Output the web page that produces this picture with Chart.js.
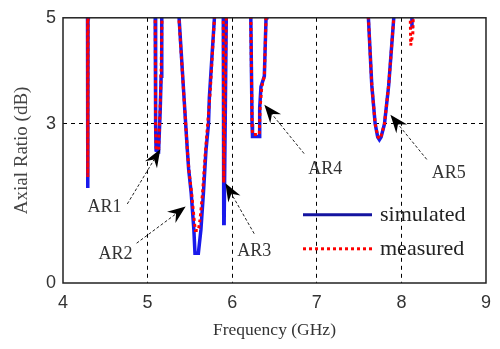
<!DOCTYPE html>
<html>
<head>
<meta charset="utf-8">
<script src="https://cdn.jsdelivr.net/npm/chart.js@4.4.0/dist/chart.umd.min.js"></script>
<style>
  html, body { margin: 0; padding: 0; background: #fff; }
</style>
</head>
<body>
<canvas id="arChart" width="500" height="349"></canvas>
<script>
// simulated curve (values above 5 dB fall outside the plot and get clipped)
const simFreq = [4.28, 4.29, 4.293, 4.296, 4.30,
  5.08, 5.09, 5.095, 5.10, 5.13, 5.15, 5.16, 5.165, 5.17,
  5.36, 5.372, 5.45, 5.47, 5.485, 5.515, 5.547, 5.56, 5.60, 5.63, 5.66, 5.69, 5.72, 5.73, 5.79, 5.80,
  5.89, 5.895, 5.90, 5.905, 5.93, 5.94,
  6.21, 6.22, 6.235, 6.24, 6.32, 6.325, 6.34, 6.38, 6.40, 6.41,
  7.60, 7.61, 7.65, 7.69, 7.72, 7.74, 7.76, 7.80, 7.85, 7.91, 7.92,
  8.115, 8.125, 8.135];
const simAR = [8, 5, 1.79, 5, 8,
  8, 5, 3.0, 2.5, 2.48, 3.3, 3.9, 5, 8,
  8, 5, 3.0, 2.5, 2.15, 1.7, 1.0, 0.56, 0.56, 1.0, 1.7, 2.5, 3.0, 3.5, 5, 8,
  8, 5, 1.12, 1.12, 5, 8,
  8, 5, 3.0, 2.76, 2.76, 3.3, 3.7, 3.9, 5, 8,
  8, 5, 3.73, 3.0, 2.75, 2.7, 2.75, 3.0, 3.73, 5, 8,
  8, 4.8, 8];

// measured curve
const measFreq = [4.28, 4.29, 4.293, 4.296, 4.30,
  5.08, 5.09, 5.095, 5.10, 5.13, 5.15, 5.16, 5.17, 5.18,
  5.36, 5.37, 5.45, 5.47, 5.49, 5.52, 5.55, 5.565, 5.60, 5.62, 5.65, 5.68, 5.71, 5.74, 5.79, 5.80,
  5.89, 5.895, 5.90, 5.93, 5.94,
  6.21, 6.22, 6.235, 6.24, 6.32, 6.33, 6.35, 6.38, 6.40, 6.41,
  7.60, 7.61, 7.65, 7.69, 7.72, 7.74, 7.76, 7.80, 7.85, 7.91, 7.92,
  8.10, 8.105, 8.11, 8.135, 8.14, 8.15];
const measAR = [8, 5, 2.0, 5, 8,
  8, 5, 3.0, 2.55, 2.5, 3.4, 4.0, 5, 8,
  8, 5, 3.0, 2.5, 2.1, 1.7, 1.2, 0.99, 0.99, 1.2, 1.7, 2.4, 3.0, 3.6, 5, 8,
  8, 5, 1.89, 5, 8,
  8, 5, 3.0, 2.8, 2.8, 3.3, 3.7, 3.9, 5, 8,
  8, 5, 3.73, 3.0, 2.77, 2.72, 2.77, 3.0, 3.73, 5, 8,
  8, 5, 4.48, 4.7, 5, 8];

const xTicks = [4, 5, 6, 7, 8, 9];
const yTicks = [0, 3, 5];

// annotation labels: text spot and arrow tail / tip, in GHz and dB
const arNames = ['AR1', 'AR2', 'AR3', 'AR4', 'AR5'];
const arTextX = [4.49, 4.62, 6.26, 7.10, 8.56];
const arTextY = [1.42, 0.54, 0.60, 2.15, 2.07];
const arTailX = [4.76, 4.87, 6.26, 6.85, 8.30];
const arTailY = [1.49, 0.75, 0.93, 2.44, 2.33];
const arTipX = [5.15, 5.45, 5.92, 6.38, 7.87];
const arTipY = [2.52, 1.44, 1.88, 3.36, 3.17];

const seriesNames = ['simulated', 'measured'];
const blue = 'rgb(25,25,235)';
const red = 'rgb(255,0,0)';

function toPoints(xs, ys) {
  return xs.map((x, i) => ({x: x, y: ys[i]}));
}

const serif = '"Liberation Serif", "Times New Roman", serif';
const sans = '"Liberation Sans", Arial, sans-serif';

const framePlugin = {
  id: 'frame',
  afterDatasetsDraw(chart) {
    const {ctx, chartArea: a} = chart;
    ctx.save();
    ctx.strokeStyle = '#222';
    ctx.lineWidth = 1.5;
    ctx.strokeRect(a.left, a.top, a.right - a.left, a.bottom - a.top);
    ctx.restore();
  }
};

const notesPlugin = {
  id: 'notes',
  afterDraw(chart) {
    const ctx = chart.ctx;
    const xs = chart.scales.x, ys = chart.scales.y;
    ctx.save();
    // arrows
    for (let i = 0; i < arNames.length; i++) {
      const x0 = xs.getPixelForValue(arTailX[i]), y0 = ys.getPixelForValue(arTailY[i]);
      const x1 = xs.getPixelForValue(arTipX[i]), y1 = ys.getPixelForValue(arTipY[i]);
      const ang = Math.atan2(y1 - y0, x1 - x0);
      const len = 18, half = 7, notch = 12;
      ctx.strokeStyle = '#222';
      ctx.lineWidth = 1;
      ctx.setLineDash([3, 2]);
      ctx.beginPath();
      ctx.moveTo(x0, y0);
      ctx.lineTo(x1 - Math.cos(ang) * notch, y1 - Math.sin(ang) * notch);
      ctx.stroke();
      ctx.setLineDash([]);
      const bx = x1 - Math.cos(ang) * len, by = y1 - Math.sin(ang) * len;
      const nx = -Math.sin(ang), ny = Math.cos(ang);
      ctx.fillStyle = '#000';
      ctx.beginPath();
      ctx.moveTo(x1, y1);
      ctx.lineTo(bx + nx * half, by + ny * half);
      ctx.lineTo(x1 - Math.cos(ang) * notch, y1 - Math.sin(ang) * notch);
      ctx.lineTo(bx - nx * half, by - ny * half);
      ctx.closePath();
      ctx.fill();
      ctx.fillStyle = '#333';
      ctx.font = '18px ' + serif;
      ctx.textAlign = 'center';
      ctx.textBaseline = 'middle';
      ctx.fillText(arNames[i], xs.getPixelForValue(arTextX[i]), ys.getPixelForValue(arTextY[i]));
    }
    // legend inside the plot
    const a = chart.chartArea;
    const lx0 = a.left + 240, lx1 = a.left + 309, tx = a.left + 317;
    const rows = [a.top + 197, a.top + 231];
    ctx.font = '22px ' + serif;
    ctx.textAlign = 'left';
    ctx.textBaseline = 'middle';
    chart.data.datasets.forEach((ds, i) => {
      ctx.strokeStyle = i === 0 ? 'rgb(20,20,160)' : ds.borderColor;
      ctx.lineWidth = 3;
      ctx.setLineDash(ds.borderDash || []);
      ctx.beginPath();
      ctx.moveTo(lx0, rows[i]);
      ctx.lineTo(lx1, rows[i]);
      ctx.stroke();
      ctx.setLineDash([]);
      ctx.fillStyle = '#222';
      ctx.fillText(seriesNames[i], tx, rows[i]);
    });
    ctx.restore();
  }
};

const ctx = document.getElementById('arChart').getContext('2d');
const chart = new Chart(ctx, {
  type: 'line',
  data: {
    datasets: [
      {
        label: seriesNames[0],
        data: toPoints(simFreq, simAR),
        borderColor: blue,
        borderWidth: 3.5,
        pointRadius: 0,
        tension: 0,
        clip: 0,
        order: 1
      },
      {
        label: seriesNames[1],
        data: toPoints(measFreq, measAR),
        borderColor: red,
        borderWidth: 3,
        borderDash: [3, 3],
        pointRadius: 0,
        tension: 0,
        clip: 0,
        order: 0
      }
    ]
  },
  options: {
    responsive: false,
    animation: false,
    layout: { padding: { top: 15, right: 7, left: 0, bottom: 0 } },
    plugins: {
      legend: { display: false },
      tooltip: { enabled: false }
    },
    scales: {
      x: {
        type: 'linear',
        min: 4,
        max: 9,
        afterBuildTicks: (s) => { s.ticks = xTicks.map(v => ({value: v})); },
        afterFit: (s) => { s.height = 66; },
        ticks: { padding: 9, color: '#333', font: { family: sans, size: 18 } },
        grid: {
          drawTicks: false,
          lineWidth: 1,
          color: (c) => (c.tick && c.tick.value > 4 && c.tick.value < 9) ? '#000' : 'rgba(0,0,0,0)'
        },
        border: { display: false, dash: [4, 4] },
        title: {
          display: true,
          text: 'Frequency (GHz)',
          color: '#333',
          font: { family: serif, size: 17.5 },
          padding: { top: 0, bottom: 8 }
        }
      },
      y: {
        min: 0,
        max: 5,
        afterBuildTicks: (s) => { s.ticks = yTicks.map(v => ({value: v})); },
        afterFit: (s) => { s.width = 63; },
        ticks: { padding: 7, color: '#333', font: { family: sans, size: 18 } },
        grid: {
          drawTicks: false,
          lineWidth: 1,
          color: (c) => (c.tick && c.tick.value === 3) ? '#000' : 'rgba(0,0,0,0)'
        },
        border: { display: false, dash: [4, 4] },
        title: {
          display: true,
          text: 'Axial Ratio (dB)',
          color: '#444',
          font: { family: serif, size: 19 },
          padding: { top: 11, bottom: 0 }
        }
      }
    }
  },
  plugins: [framePlugin, notesPlugin]
});
</script>
</body>
</html>
